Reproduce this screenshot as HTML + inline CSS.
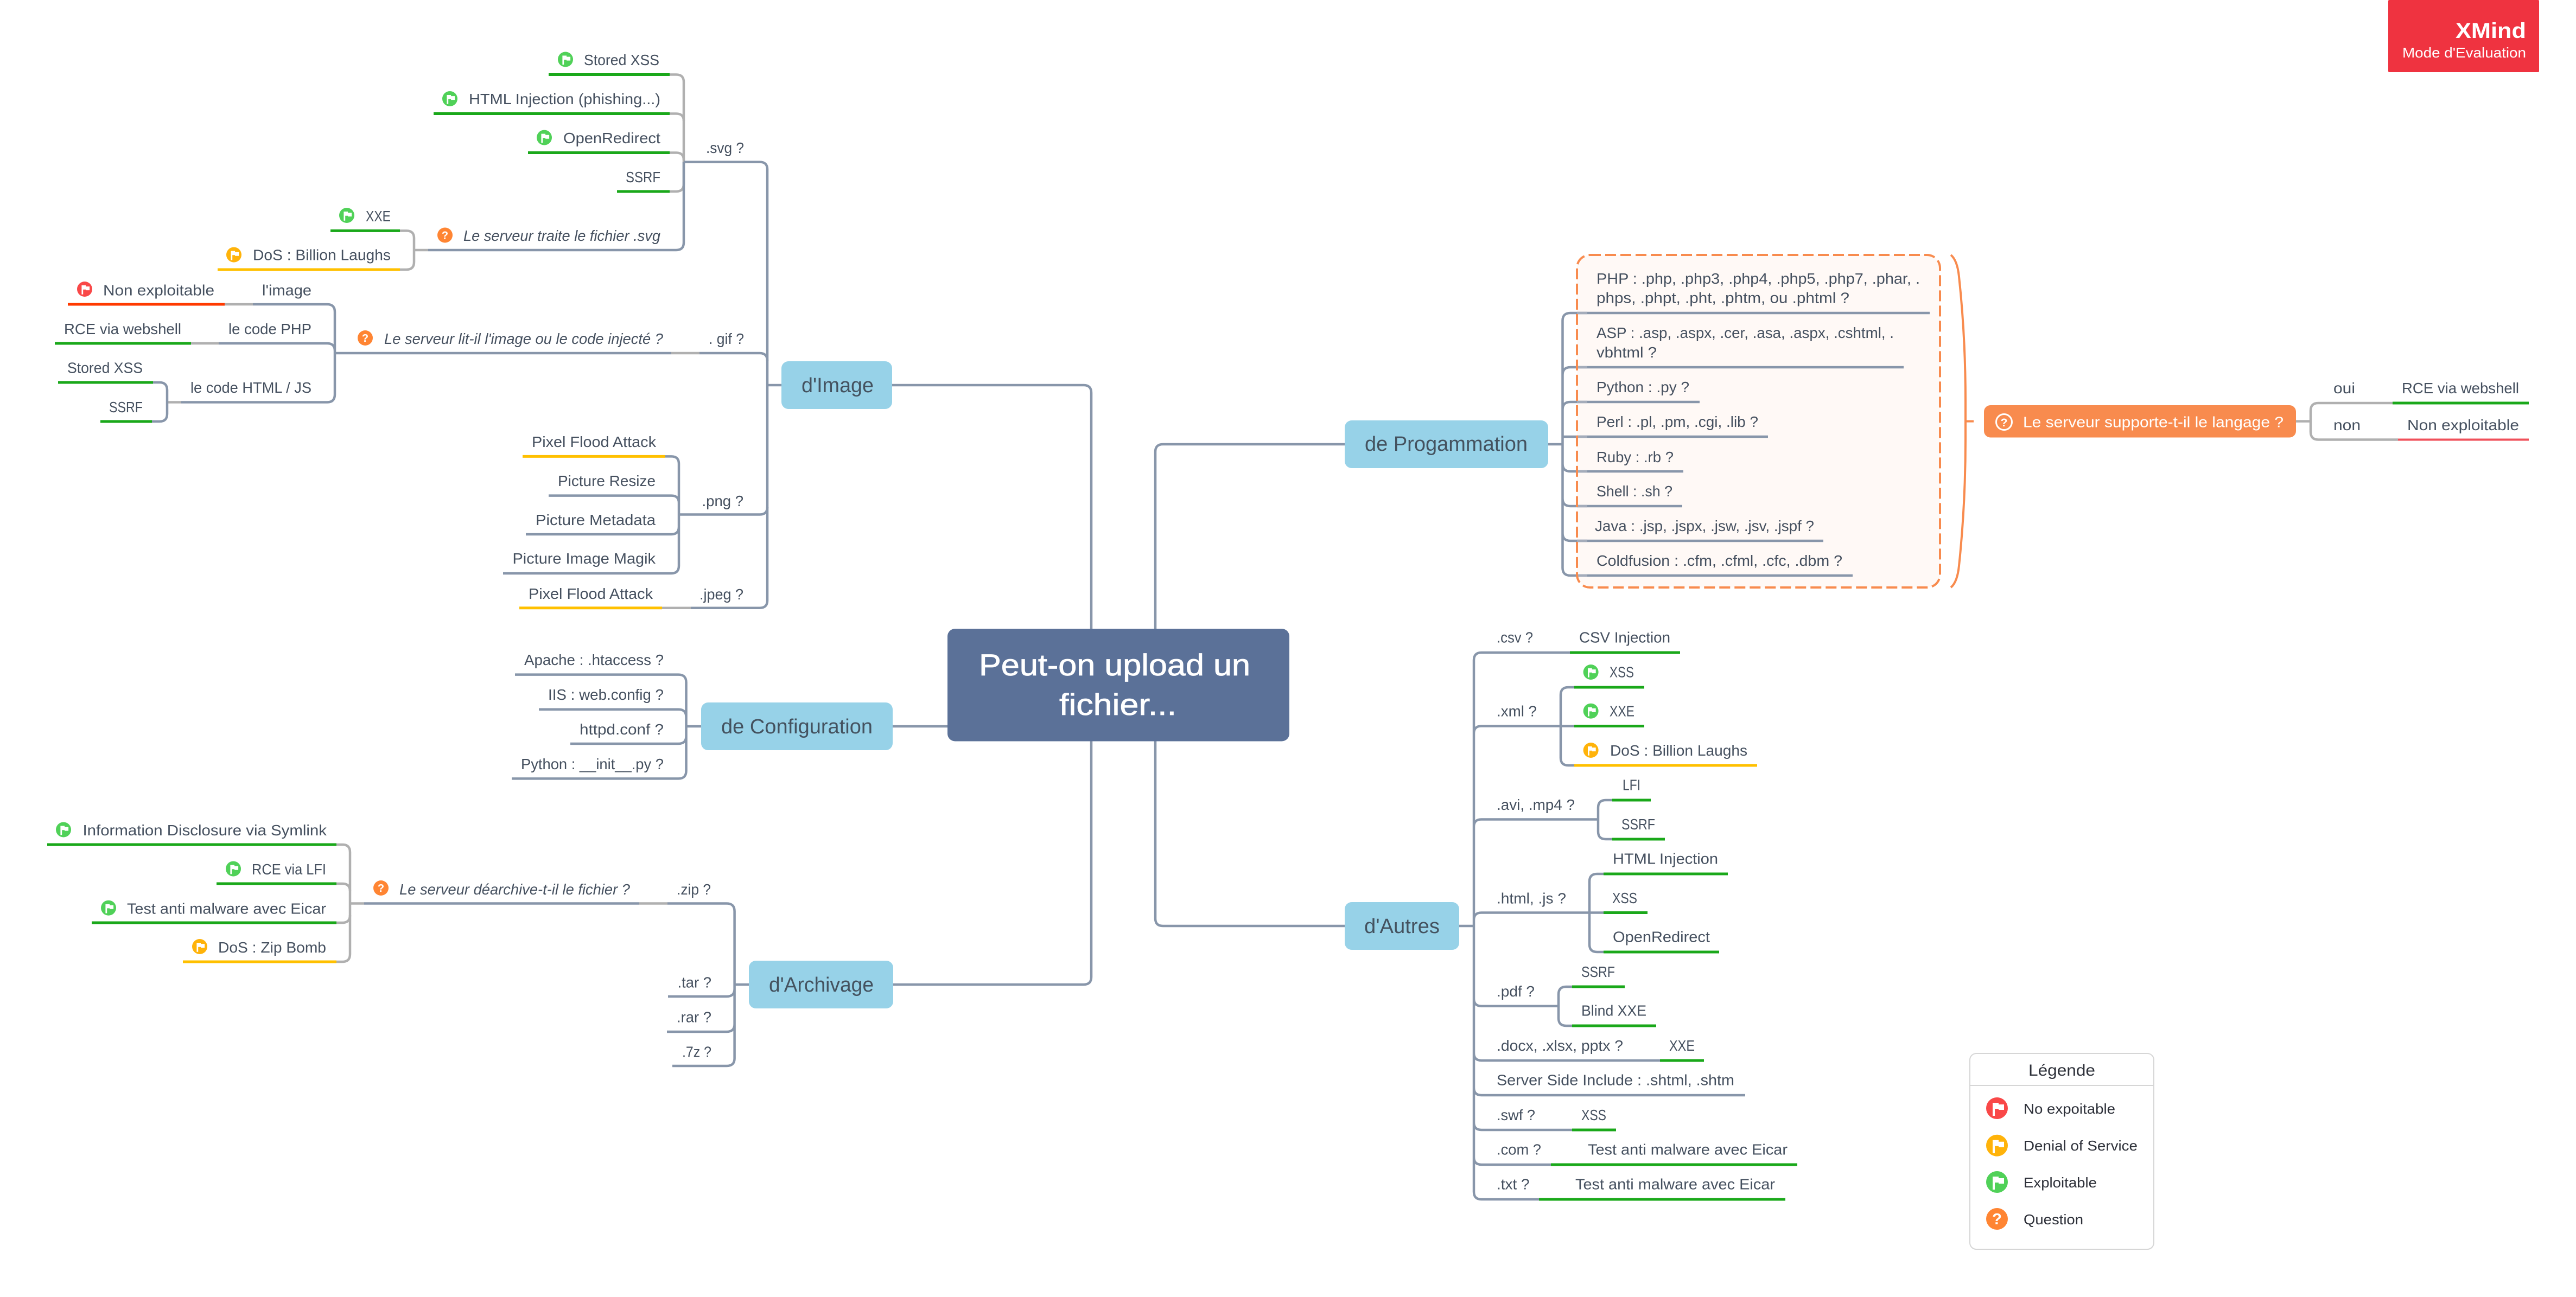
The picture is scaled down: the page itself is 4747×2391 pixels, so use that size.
<!DOCTYPE html>
<html><head><meta charset="utf-8"><title>Peut-on upload un fichier...</title>
<style>
html,body{margin:0;padding:0;background:#fff}
svg{display:block}
text{font-family:"Liberation Sans",sans-serif;font-size:28px;fill:#45505f}
.i{font-style:italic}
.b{font-size:38px;fill:#44525f}
.r{font-size:56px;fill:#fff;stroke:#fff;stroke-width:.8px}
.l{font-size:26px;fill:#2d3039}
.w{fill:#fff}
.q{font-weight:bold;fill:#fff;font-size:20px;text-anchor:middle}
</style></head><body>
<svg xmlns="http://www.w3.org/2000/svg" width="4747" height="2391" viewBox="0 0 4747 2391">
<defs>
<g id="fl"><polygon fill="#fff" points="-5.6,-7 2.1,-7 2.1,-4.9 9.1,-4.9 9.1,2.1 2.1,2.1 2.1,.7 -2.8,.7 -2.8,9.8 -5.6,9.8"/></g>
</defs>
<rect width="4747" height="2391" fill="#fff"/>
<rect x="4401" y="0" width="278" height="133" rx="2" fill="#ef3340"/>
<text x="4525" y="70" textLength="130" lengthAdjust="spacingAndGlyphs" class="w" style="font-size:40px;font-weight:bold">XMind</text>
<text x="4427" y="106" textLength="228" lengthAdjust="spacingAndGlyphs" class="w" style="font-size:26px">Mode d'Evaluation</text>

<rect x="2906" y="470" width="669" height="613" rx="24" fill="#fff9f6"/>

<g fill="none" stroke="#b0b0b0" stroke-width="4.5">
<path d="M1234 137.5H1246Q1260 137.5 1260 151V339Q1260 353 1246 353H1234"/>
<path d="M1234 209.5H1246Q1260 209.5 1260 223"/>
<path d="M1234 281.5H1246Q1260 281.5 1260 295"/>
<path d="M737 425.4H749Q763 425.4 763 439V483Q763 497 749 497H737"/>
<path d="M763 461H789M414 561H466M352 633H403M1237 651H1289M308 741.5H334M1220 1120.7H1273"/>
<path d="M620 1557H631Q645 1557 645 1571V1759Q645 1773 631 1773H620"/>
<path d="M620 1629H631Q645 1629 645 1643M620 1701H631Q645 1701 645 1687M645 1665.5H671M1178 1665.5H1230"/>
<path d="M4231 776.6H4258M4409 743H4272Q4258 743 4258 757V796Q4258 810.5 4272 810.5H4419"/>
</g>
<g fill="none" stroke="#8896aa" stroke-width="4.5">
<path d="M1260 298.6H1400Q1414 298.6 1414 312V1107Q1414 1120.7 1400 1120.7H1273"/>
<path d="M1414 710H1440M789 461H1246Q1260 461 1260 447V298.6M617 651H1237M1289 651H1400Q1414 651 1414 665"/>
<path d="M466 561H603Q617 561 617 575V727Q617 741.5 603 741.5H334M403 633H603Q617 633 617 647"/>
<path d="M282 705H294Q308 705 308 719V763Q308 777 294 777H280"/>
<path d="M1414 935Q1414 948.5 1400 948.5H1251"/>
<path d="M1226 841.4H1237Q1251 841.4 1251 855V1043Q1251 1057 1237 1057H927M1011 913.6H1237Q1251 913.6 1251 927M969 985H1237Q1251 985 1251 971"/>
<path d="M949 1243.6H1250Q1264.5 1243.6 1264.5 1258V1421Q1264.5 1435.4 1250 1435.4H943M993 1307.7H1250Q1264.5 1307.7 1264.5 1322M1051 1371H1250Q1264.5 1371 1264.5 1357M1264.5 1339H1292M1645 1339H1746"/>
<path d="M671 1665.5H1178M1230 1665.5H1339Q1353.6 1665.5 1353.6 1680V1951Q1353.6 1965 1339 1965H1239M1231 1837H1339Q1353.6 1837 1353.6 1823M1229 1902H1339Q1353.6 1902 1353.6 1888M1353.6 1815H1380"/>
<path d="M1644 710H1997Q2011 710 2011 724V1159M1646 1815H1997Q2011 1815 2011 1801V1366"/>
<path d="M2129 1159V833Q2129 819 2143 819H2478M2129 1366V1693Q2129 1707 2143 1707H2478"/>
<path d="M2853 819H2879.5M3556 577H2894Q2879.5 577 2879.5 591V1047Q2879.5 1061 2894 1061H3414M3508 677H2894Q2879.5 677 2879.5 691M3132 741H2894Q2879.5 741 2879.5 755M3258 805H2879.5M3102 869H2894Q2879.5 869 2879.5 855M3100 933H2894Q2879.5 933 2879.5 919M3360 997H2894Q2879.5 997 2879.5 983"/>
<path d="M2689 1707H2716M2893 1203H2730Q2716 1203 2716 1217V2197Q2716 2211 2730 2211H2836M2901 1338.5H2730Q2716 1338.5 2716 1352M2945 1510.5H2730Q2716 1510.5 2716 1524M2955 1682.5H2730Q2716 1682.5 2716 1696M2872 1854.7H2730Q2716 1854.7 2716 1841M3059 1955H2730Q2716 1955 2716 1941M3216 2019H2730Q2716 2019 2716 2005M2897 2083H2730Q2716 2083 2716 2069M2858 2147H2730Q2716 2147 2716 2133"/>
<path d="M2901 1267H2890Q2876 1267 2876 1281V1397Q2876 1411 2890 1411H2901M2971 1475H2959Q2945 1475 2945 1489V1533Q2945 1547 2959 1547H2971M2955 1611H2943Q2929 1611 2929 1625V1741Q2929 1755 2943 1755H2955M2897 1819H2886Q2872 1819 2872 1833V1877Q2872 1891 2886 1891H2897"/>
</g>
<path fill="none" stroke="#a4acba" stroke-width="4.5" d="M2906 577H2925M2906 677H2925M2906 741H2925M2906 805H2925M2906 869H2925M2906 933H2925M2906 997H2925M2906 1061H2925"/>
<g fill="none" stroke-width="5">
<path stroke="#1aa81a" d="M1011 137.5H1234M799 209.5H1234M973 281.5H1234M1137 353H1234M609 425.4H737M101 633H352M107 705H282M185 777H280M87 1557H620M399 1629H620M169 1701H620M4409 743H4660M2893 1203H3096M2901 1267H3030M2901 1338.5H3030M2971 1475H3042M2971 1547H3068M2955 1611H3184M2955 1682.5H3036M2955 1755H3168M2897 1819H2994M2897 1891H3052M3059 1955H3140M2897 2083H2978M2858 2147H3312M2836 2211H3290"/>
<path stroke="#ffc000" d="M401 497H737M963 841.4H1226M957 1120.7H1220M337 1773H620M2901 1411H3238"/>
<path stroke="#ff3a00" d="M125 561H414"/>
<path stroke="#f0505a" stroke-width="4" d="M4419 810.5H4660"/>
</g>
<rect x="2906" y="470" width="669" height="613" rx="24" fill="none" stroke="#f88b4e" stroke-width="4" stroke-dasharray="20 8"/>
<path d="M3595 470Q3607 480 3610 510Q3622 620 3622 740V810Q3622 930 3610 1043Q3607 1073 3595 1083M3622 776.6H3637" fill="none" stroke="#f88b4e" stroke-width="4"/>

<rect x="1746" y="1159" width="630" height="207.5" rx="14" fill="#5b7198"/>
<text x="1804" y="1245" textLength="500" lengthAdjust="spacingAndGlyphs" class="r">Peut-on upload un</text>
<text x="1952" y="1318" textLength="216" lengthAdjust="spacingAndGlyphs" class="r">fichier...</text>

<g fill="#97d2e8">
<rect x="1440" y="666" width="204" height="88" rx="13"/>
<rect x="1292" y="1295" width="353" height="88" rx="13"/>
<rect x="1380" y="1771" width="266" height="88" rx="13"/>
<rect x="2478" y="775" width="375" height="88" rx="13"/>
<rect x="2478" y="1663" width="211" height="88" rx="13"/>
</g>
<text class="b" x="1477" y="723" textLength="133" lengthAdjust="spacingAndGlyphs">d'Image</text>
<text class="b" x="1329" y="1352" textLength="279" lengthAdjust="spacingAndGlyphs">de Configuration</text>
<text class="b" x="1417" y="1828" textLength="193" lengthAdjust="spacingAndGlyphs">d'Archivage</text>
<text class="b" x="2515" y="831" textLength="300" lengthAdjust="spacingAndGlyphs">de Progammation</text>
<text class="b" x="2514" y="1720" textLength="139" lengthAdjust="spacingAndGlyphs">d'Autres</text>

<rect x="3656" y="747" width="575" height="59.5" rx="12" fill="#f88b4e"/>
<circle cx="3693" cy="778" r="14.5" fill="none" stroke="#fff" stroke-width="3"/>
<text x="3693" y="786" class="q" style="font-size:21px">?</text>
<text x="3728" y="787.5" textLength="480" lengthAdjust="spacingAndGlyphs" class="w">Le serveur supporte-t-il le langage ?</text>

<g fill="#50d158">
<circle cx="1042" cy="109.5" r="14"/><circle cx="829" cy="182" r="14"/><circle cx="1003" cy="253.6" r="14"/><circle cx="639" cy="397" r="14"/>
<circle cx="117" cy="1529.5" r="14"/><circle cx="430" cy="1601.6" r="14"/><circle cx="200" cy="1673.7" r="14"/>
<circle cx="2931.6" cy="1239" r="14"/><circle cx="2931.6" cy="1310.7" r="14"/>
</g>
<g fill="#ffb30a"><circle cx="431" cy="469.6" r="14"/><circle cx="368" cy="1745" r="14"/><circle cx="2931.6" cy="1383" r="14"/></g>
<circle cx="156" cy="533" r="14" fill="#f94848"/>
<use href="#fl" x="1042" y="109.5"/><use href="#fl" x="829" y="182"/><use href="#fl" x="1003" y="253.6"/><use href="#fl" x="639" y="397"/>
<use href="#fl" x="117" y="1529.5"/><use href="#fl" x="430" y="1601.6"/><use href="#fl" x="200" y="1673.7"/>
<use href="#fl" x="2931.6" y="1239"/><use href="#fl" x="2931.6" y="1310.7"/>
<use href="#fl" x="431" y="469.6"/><use href="#fl" x="368" y="1745"/><use href="#fl" x="2931.6" y="1383"/><use href="#fl" x="156" y="533"/>
<g fill="#ff8533"><circle cx="820" cy="433.5" r="14"/><circle cx="673" cy="623" r="14"/><circle cx="702" cy="1637" r="14"/></g>
<text x="820" y="440.5" class="q">?</text><text x="673" y="630" class="q">?</text><text x="702" y="1644" class="q">?</text>

<text x="1076" y="120" textLength="139" lengthAdjust="spacingAndGlyphs">Stored XSS</text>
<text x="864" y="192" textLength="353" lengthAdjust="spacingAndGlyphs">HTML Injection (phishing...)</text>
<text x="1038" y="264" textLength="179" lengthAdjust="spacingAndGlyphs">OpenRedirect</text>
<text x="1153" y="336" textLength="64" lengthAdjust="spacingAndGlyphs">SSRF</text>
<text x="1301" y="282" textLength="70" lengthAdjust="spacingAndGlyphs">.svg ?</text>
<text class="i" x="854" y="444" textLength="363" lengthAdjust="spacingAndGlyphs">Le serveur traite le fichier .svg</text>
<text x="674" y="408" textLength="46" lengthAdjust="spacingAndGlyphs">XXE</text>
<text x="466" y="479.5" textLength="254" lengthAdjust="spacingAndGlyphs">DoS : Billion Laughs</text>
<text x="190" y="544.6" textLength="205" lengthAdjust="spacingAndGlyphs">Non exploitable</text>
<text x="483" y="544.6" textLength="91" lengthAdjust="spacingAndGlyphs">l'image</text>
<text x="118" y="616" textLength="216" lengthAdjust="spacingAndGlyphs">RCE via webshell</text>
<text x="421" y="616" textLength="153" lengthAdjust="spacingAndGlyphs">le code PHP</text>
<text class="i" x="708" y="634" textLength="514" lengthAdjust="spacingAndGlyphs">Le serveur lit-il l'image ou le code injecté ?</text>
<text x="1306" y="634" textLength="65" lengthAdjust="spacingAndGlyphs">. gif ?</text>
<text x="124" y="687.5" textLength="139" lengthAdjust="spacingAndGlyphs">Stored XSS</text>
<text x="201" y="760" textLength="62" lengthAdjust="spacingAndGlyphs">SSRF</text>
<text x="351" y="724" textLength="223" lengthAdjust="spacingAndGlyphs">le code HTML / JS</text>
<text x="980" y="824" textLength="229" lengthAdjust="spacingAndGlyphs">Pixel Flood Attack</text>
<text x="1028" y="896" textLength="180" lengthAdjust="spacingAndGlyphs">Picture Resize</text>
<text x="987" y="968" textLength="221" lengthAdjust="spacingAndGlyphs">Picture Metadata</text>
<text x="944.5" y="1039" textLength="263.5" lengthAdjust="spacingAndGlyphs">Picture Image Magik</text>
<text x="1293.5" y="933" textLength="76.5" lengthAdjust="spacingAndGlyphs">.png ?</text>
<text x="1289" y="1105" textLength="81" lengthAdjust="spacingAndGlyphs">.jpeg ?</text>
<text x="974" y="1104" textLength="229" lengthAdjust="spacingAndGlyphs">Pixel Flood Attack</text>
<text x="966" y="1226" textLength="257" lengthAdjust="spacingAndGlyphs">Apache : .htaccess ?</text>
<text x="1010" y="1290" textLength="213" lengthAdjust="spacingAndGlyphs">IIS : web.config ?</text>
<text x="1068" y="1354" textLength="155" lengthAdjust="spacingAndGlyphs">httpd.conf ?</text>
<text x="960" y="1418" textLength="263" lengthAdjust="spacingAndGlyphs">Python : __init__.py ?</text>
<text x="152.5" y="1540" textLength="449.5" lengthAdjust="spacingAndGlyphs">Information Disclosure via Symlink</text>
<text x="464" y="1612" textLength="137" lengthAdjust="spacingAndGlyphs">RCE via LFI</text>
<text x="234" y="1684.5" textLength="367" lengthAdjust="spacingAndGlyphs">Test anti malware avec Eicar</text>
<text x="402" y="1756" textLength="199" lengthAdjust="spacingAndGlyphs">DoS : Zip Bomb</text>
<text class="i" x="736" y="1649" textLength="425" lengthAdjust="spacingAndGlyphs">Le serveur déarchive-t-il le fichier ?</text>
<text x="1247" y="1649" textLength="63" lengthAdjust="spacingAndGlyphs">.zip ?</text>
<text x="1248.5" y="1820.6" textLength="62.5" lengthAdjust="spacingAndGlyphs">.tar ?</text>
<text x="1247" y="1884.6" textLength="64" lengthAdjust="spacingAndGlyphs">.rar ?</text>
<text x="1257" y="1948.5" textLength="54" lengthAdjust="spacingAndGlyphs">.7z ?</text>

<text x="2942" y="523" textLength="596" lengthAdjust="spacingAndGlyphs">PHP : .php, .php3, .php4, .php5, .php7, .phar, .</text>
<text x="2942" y="558.6" textLength="466" lengthAdjust="spacingAndGlyphs">phps, .phpt, .pht, .phtm, ou .phtml ?</text>
<text x="2942" y="623" textLength="548" lengthAdjust="spacingAndGlyphs">ASP : .asp, .aspx, .cer, .asa, .aspx, .cshtml, .</text>
<text x="2942" y="659" textLength="111" lengthAdjust="spacingAndGlyphs">vbhtml ?</text>
<text x="2942" y="723" textLength="171" lengthAdjust="spacingAndGlyphs">Python : .py ?</text>
<text x="2942" y="787" textLength="298" lengthAdjust="spacingAndGlyphs">Perl : .pl, .pm, .cgi, .lib ?</text>
<text x="2942" y="852" textLength="142" lengthAdjust="spacingAndGlyphs">Ruby : .rb ?</text>
<text x="2942" y="915" textLength="140" lengthAdjust="spacingAndGlyphs">Shell : .sh ?</text>
<text x="2939" y="979" textLength="404" lengthAdjust="spacingAndGlyphs">Java : .jsp, .jspx, .jsw, .jsv, .jspf ?</text>
<text x="2942" y="1043" textLength="453" lengthAdjust="spacingAndGlyphs">Coldfusion : .cfm, .cfml, .cfc, .dbm ?</text>
<text x="4300" y="725" textLength="40" lengthAdjust="spacingAndGlyphs">oui</text>
<text x="4426" y="725" textLength="216" lengthAdjust="spacingAndGlyphs">RCE via webshell</text>
<text x="4300" y="793" textLength="50" lengthAdjust="spacingAndGlyphs">non</text>
<text x="4436" y="793" textLength="206" lengthAdjust="spacingAndGlyphs">Non exploitable</text>

<text x="2758" y="1184.7" textLength="67" lengthAdjust="spacingAndGlyphs">.csv ?</text>
<text x="2910" y="1184.7" textLength="168" lengthAdjust="spacingAndGlyphs">CSV Injection</text>
<text x="2966" y="1248.5" textLength="45" lengthAdjust="spacingAndGlyphs">XSS</text>
<text x="2758" y="1320.7" textLength="74" lengthAdjust="spacingAndGlyphs">.xml ?</text>
<text x="2966" y="1320.7" textLength="46" lengthAdjust="spacingAndGlyphs">XXE</text>
<text x="2967" y="1393" textLength="253" lengthAdjust="spacingAndGlyphs">DoS : Billion Laughs</text>
<text x="2990" y="1456.6" textLength="33" lengthAdjust="spacingAndGlyphs">LFI</text>
<text x="2758" y="1493" textLength="144" lengthAdjust="spacingAndGlyphs">.avi, .mp4 ?</text>
<text x="2988" y="1529" textLength="62" lengthAdjust="spacingAndGlyphs">SSRF</text>
<text x="2972" y="1592.6" textLength="194" lengthAdjust="spacingAndGlyphs">HTML Injection</text>
<text x="2758" y="1665.5" textLength="128" lengthAdjust="spacingAndGlyphs">.html, .js ?</text>
<text x="2971" y="1665" textLength="46" lengthAdjust="spacingAndGlyphs">XSS</text>
<text x="2972" y="1736.4" textLength="179" lengthAdjust="spacingAndGlyphs">OpenRedirect</text>
<text x="2914" y="1801" textLength="62" lengthAdjust="spacingAndGlyphs">SSRF</text>
<text x="2758" y="1837" textLength="70" lengthAdjust="spacingAndGlyphs">.pdf ?</text>
<text x="2914" y="1872.6" textLength="120" lengthAdjust="spacingAndGlyphs">Blind XXE</text>
<text x="2758" y="1937" textLength="233" lengthAdjust="spacingAndGlyphs">.docx, .xlsx, pptx ?</text>
<text x="3076" y="1937" textLength="47" lengthAdjust="spacingAndGlyphs">XXE</text>
<text x="2758" y="2000.6" textLength="438" lengthAdjust="spacingAndGlyphs">Server Side Include : .shtml, .shtm</text>
<text x="2758" y="2065" textLength="71" lengthAdjust="spacingAndGlyphs">.swf ?</text>
<text x="2914" y="2065" textLength="46" lengthAdjust="spacingAndGlyphs">XSS</text>
<text x="2758" y="2128.7" textLength="82" lengthAdjust="spacingAndGlyphs">.com ?</text>
<text x="2926" y="2128.7" textLength="368" lengthAdjust="spacingAndGlyphs">Test anti malware avec Eicar</text>
<text x="2758" y="2192.5" textLength="60.5" lengthAdjust="spacingAndGlyphs">.txt ?</text>
<text x="2903" y="2192.5" textLength="368" lengthAdjust="spacingAndGlyphs">Test anti malware avec Eicar</text>

<rect x="3630" y="1942" width="339" height="361" rx="12" fill="#fff" stroke="#d6d6d6" stroke-width="2"/>
<path d="M3630 2001H3969" stroke="#d6d6d6" stroke-width="2"/>
<text x="3738" y="1983" textLength="123" lengthAdjust="spacingAndGlyphs" style="font-size:30px;fill:#2d3039">Légende</text>
<circle cx="3680" cy="2043" r="20" fill="#f94848"/><circle cx="3680" cy="2111.7" r="20" fill="#ffb30a"/><circle cx="3680" cy="2179" r="20" fill="#50d158"/><circle cx="3680" cy="2247" r="20" fill="#ff8533"/>
<use href="#fl" transform="translate(3680 2043) scale(1.43)"/><use href="#fl" transform="translate(3680 2111.7) scale(1.43)"/><use href="#fl" transform="translate(3680 2179) scale(1.43)"/>
<text x="3680" y="2257" class="q" style="font-size:29px">?</text>
<text class="l" x="3729" y="2053" textLength="169" lengthAdjust="spacingAndGlyphs">No expoitable</text>
<text class="l" x="3729" y="2121" textLength="210" lengthAdjust="spacingAndGlyphs">Denial of Service</text>
<text class="l" x="3729" y="2189" textLength="135" lengthAdjust="spacingAndGlyphs">Exploitable</text>
<text class="l" x="3729" y="2257" textLength="110" lengthAdjust="spacingAndGlyphs">Question</text>
</svg>
</body></html>
